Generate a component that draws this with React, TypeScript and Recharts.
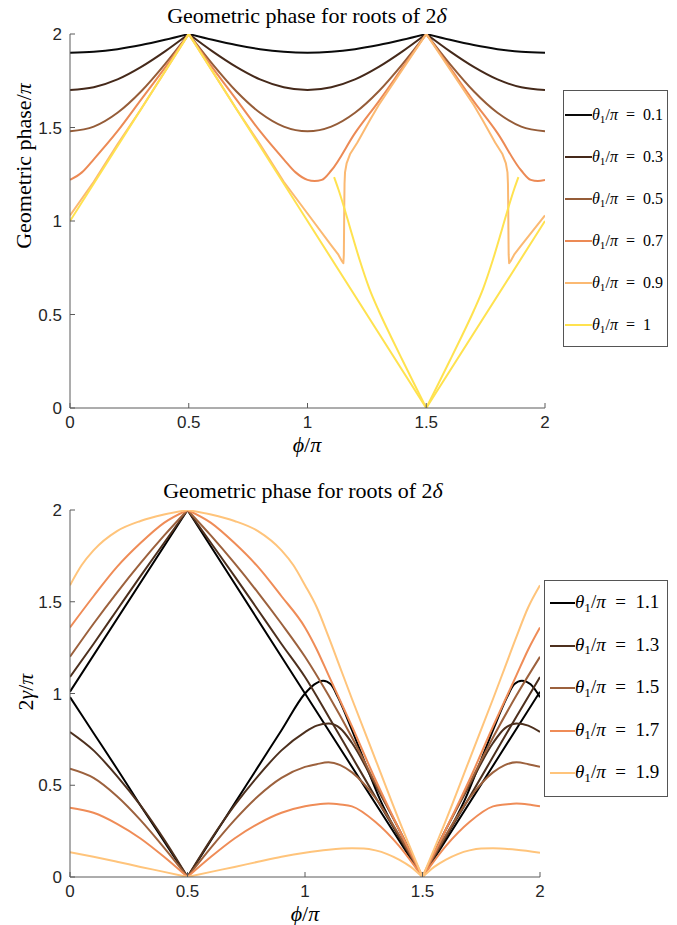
import React from 'react';
import { LineChart, Line, XAxis, YAxis, Legend, Customized } from 'recharts';

// ---------------- shared ----------------
const TICKS = [0, 0.5, 1, 1.5, 2];
const PHI = [0, 0.1, 0.2, 0.3, 0.4, 0.5, 0.6, 0.7, 0.8, 0.9, 1, 1.1, 1.2, 1.3, 1.4, 1.5, 1.6, 1.7, 1.8, 1.9, 2];

// ---------------- top panel (theta1/pi = 0.1 ... 1) ----------------
const TOP_LABELS = ['0.1', '0.3', '0.5', '0.7', '0.9', '1'];
const TOP_COLORS = ['#0a0a0a', '#45291a', '#955c38', '#ec8a55', '#fbb972', '#ffe24f'];

const TOP_T01 = [1.9, 1.905, 1.919, 1.941, 1.969, 2, 1.969, 1.941, 1.919, 1.905, 1.9, 1.905, 1.919, 1.941, 1.969, 2, 1.969, 1.941, 1.919, 1.905, 1.9];
const TOP_T03 = [1.7, 1.715, 1.757, 1.824, 1.907, 2, 1.907, 1.824, 1.757, 1.715, 1.7, 1.715, 1.757, 1.824, 1.907, 2, 1.907, 1.824, 1.757, 1.715, 1.7];
const TOP_T05 = [1.48, 1.505, 1.579, 1.694, 1.839, 2, 1.839, 1.694, 1.579, 1.505, 1.48, 1.505, 1.579, 1.694, 1.839, 2, 1.839, 1.694, 1.579, 1.505, 1.48];

const PHI_T07 = [0, 0.05, 0.1, 0.2, 0.3, 0.4, 0.5, 0.6, 0.7, 0.8, 0.9, 0.95, 1, 1.03, 1.06, 1.1, 1.2, 1.3, 1.4, 1.5, 1.6, 1.7, 1.8, 1.9, 1.94, 1.97, 2];
const TOP_T07 = [1.22, 1.26, 1.33, 1.48, 1.65, 1.82, 2, 1.82, 1.65, 1.48, 1.33, 1.26, 1.22, 1.214, 1.22, 1.27, 1.47, 1.64, 1.82, 2, 1.82, 1.64, 1.47, 1.27, 1.22, 1.214, 1.22];

const PHI_T09 = [0, 0.1, 0.2, 0.3, 0.4, 0.5, 0.6, 0.7, 0.8, 0.9, 1, 1.1, 1.13, 1.145, 1.151, 1.153, 1.154, 1.155, 1.156, 1.158, 1.165, 1.18, 1.21, 1.263, 1.3, 1.4, 1.5, 1.6, 1.7, 1.737, 1.79, 1.82, 1.835, 1.842, 1.844, 1.845, 1.846, 1.847, 1.849, 1.855, 1.87, 1.9, 2];
const TOP_T09 = [1.03, 1.21, 1.41, 1.6, 1.8, 2, 1.8, 1.6, 1.41, 1.21, 1.04, 0.87, 0.82, 0.785, 0.774, 0.82, 0.95, 1.1, 1.2, 1.26, 1.31, 1.36, 1.42, 1.54, 1.62, 1.81, 2, 1.81, 1.62, 1.54, 1.42, 1.36, 1.31, 1.26, 1.2, 1.1, 0.95, 0.82, 0.774, 0.785, 0.82, 0.87, 1.03];

const PHI_T10A = [0, 0.5, 1.5, 2];
const TOP_T10A = [1, 2, 0, 1];
const PHI_T10B = [1.112, 1.13, 1.15, 1.18, 1.22, 1.26, 1.3, 1.35, 1.4, 1.45, 1.5, 1.55, 1.6, 1.65, 1.7, 1.74, 1.78, 1.82, 1.85, 1.87, 1.888];
const TOP_T10B = [1.235, 1.17, 1.09, 0.96, 0.79, 0.64, 0.52, 0.385, 0.255, 0.127, 0, 0.127, 0.255, 0.385, 0.52, 0.64, 0.79, 0.96, 1.09, 1.17, 1.235];

// ---------------- bottom panel (theta1/pi = 1.1 ... 1.9) ----------------
const BOT_LABELS = ['1.1', '1.3', '1.5', '1.7', '1.9'];
const BOT_COLORS = ['#000000', '#4d301e', '#9c613d', '#ef8c57', '#ffc47b'];

const PHI_B11U = [0, 0.5, 1, 1.5, 2];
const BOT_B11U = [1.01, 2, 1, 0, 1.01];
const PHI_B11L = [0, 0.1, 0.2, 0.3, 0.4, 0.5, 0.6, 0.7, 0.8, 0.9, 1, 1.04, 1.077, 1.11, 1.14, 1.2, 1.25, 1.32, 1.4, 1.5, 1.6, 1.68, 1.75, 1.8, 1.86, 1.89, 1.923, 1.96, 2];
const BOT_B11L = [0.98, 0.785, 0.59, 0.39, 0.195, 0, 0.2, 0.4, 0.6, 0.8, 1, 1.05, 1.07, 1.05, 0.98, 0.8, 0.64, 0.42, 0.22, 0, 0.22, 0.42, 0.64, 0.8, 0.98, 1.05, 1.07, 1.05, 0.98];

const BOT_B13U = [1.09, 1.27, 1.455, 1.64, 1.82, 2, 1.82, 1.64, 1.455, 1.27, 1.09, 0.875, 0.655, 0.435, 0.22, 0, 0.22, 0.435, 0.655, 0.875, 1.09];
const BOT_B15U = [1.2, 1.38, 1.55, 1.71, 1.86, 2, 1.86, 1.71, 1.55, 1.38, 1.2, 0.99, 0.76, 0.51, 0.26, 0, 0.26, 0.51, 0.76, 0.99, 1.2];
const PHI_B17U = [0, 0.1, 0.2, 0.3, 0.4, 0.5, 0.6, 0.7, 0.8, 0.9, 1, 1.05, 1.1, 1.2, 1.3, 1.4, 1.5, 1.6, 1.7, 1.8, 1.9, 1.95, 2];
const BOT_B17U = [1.36, 1.53, 1.69, 1.82, 1.93, 2, 1.93, 1.82, 1.69, 1.53, 1.36, 1.24, 1.1, 0.82, 0.53, 0.26, 0, 0.26, 0.53, 0.82, 1.1, 1.24, 1.36];
const PHI_B19U = [0, 0.05, 0.1, 0.2, 0.3, 0.4, 0.5, 0.6, 0.7, 0.8, 0.9, 0.95, 1, 1.05, 1.1, 1.15, 1.2, 1.3, 1.4, 1.5, 1.6, 1.7, 1.8, 1.85, 1.9, 1.95, 2];
const BOT_B19U = [1.59, 1.7, 1.78, 1.885, 1.94, 1.975, 2, 1.975, 1.94, 1.885, 1.78, 1.7, 1.59, 1.47, 1.31, 1.14, 0.97, 0.64, 0.31, 0, 0.31, 0.64, 0.97, 1.14, 1.31, 1.47, 1.59];

const PHI_LOW = [0, 0.1, 0.2, 0.3, 0.4, 0.5, 0.6, 0.7, 0.8, 0.9, 1, 1.05, 1.1, 1.15, 1.2, 1.3, 1.4, 1.5, 1.6, 1.7, 1.8, 1.85, 1.9, 1.95, 2];
const BOT_B13L = [0.79, 0.69, 0.55, 0.39, 0.205, 0, 0.205, 0.39, 0.55, 0.69, 0.79, 0.825, 0.836, 0.81, 0.73, 0.5, 0.26, 0, 0.26, 0.5, 0.73, 0.81, 0.836, 0.825, 0.79];
const BOT_B15L = [0.59, 0.54, 0.44, 0.31, 0.16, 0, 0.16, 0.31, 0.44, 0.54, 0.6, 0.615, 0.625, 0.61, 0.57, 0.43, 0.23, 0, 0.23, 0.43, 0.57, 0.61, 0.625, 0.615, 0.6];
const BOT_B17L = [0.378, 0.35, 0.29, 0.21, 0.11, 0, 0.11, 0.21, 0.29, 0.35, 0.385, 0.395, 0.4, 0.395, 0.385, 0.3, 0.17, 0, 0.17, 0.3, 0.385, 0.395, 0.4, 0.395, 0.385];
const PHI_B19L = [0, 0.1, 0.2, 0.3, 0.4, 0.5, 0.6, 0.7, 0.8, 0.9, 1, 1.1, 1.2, 1.25, 1.3, 1.35, 1.4, 1.45, 1.5, 1.55, 1.6, 1.65, 1.7, 1.75, 1.8, 1.9, 2];
const BOT_B19L = [0.135, 0.11, 0.083, 0.055, 0.028, 0, 0.028, 0.055, 0.083, 0.11, 0.132, 0.148, 0.156, 0.155, 0.145, 0.125, 0.095, 0.055, 0, 0.055, 0.095, 0.125, 0.145, 0.155, 0.156, 0.148, 0.132];

// ---------------- helpers ----------------
const SERIF = '"Liberation Serif", "Times New Roman", "DejaVu Serif", serif';
const SANS = '"Liberation Sans", Arial, sans-serif';
const AXIS_COLOR = '#5a5a5a';
const TICK_STYLE = { fill: '#262626', fontSize: 17, fontFamily: SANS };

type Curve = 'monotone' | 'linear';
type Series = { id: string; xs: number[]; ys: number[]; color: string; curve: Curve; split: boolean };

const TOP_SERIES: Series[] = [
  { id: 't01', xs: PHI, ys: TOP_T01, color: TOP_COLORS[0], curve: 'monotone', split: true },
  { id: 't03', xs: PHI, ys: TOP_T03, color: TOP_COLORS[1], curve: 'monotone', split: true },
  { id: 't05', xs: PHI, ys: TOP_T05, color: TOP_COLORS[2], curve: 'monotone', split: true },
  { id: 't07', xs: PHI_T07, ys: TOP_T07, color: TOP_COLORS[3], curve: 'monotone', split: true },
  { id: 't09', xs: PHI_T09, ys: TOP_T09, color: TOP_COLORS[4], curve: 'linear', split: false },
  { id: 't10a', xs: PHI_T10A, ys: TOP_T10A, color: TOP_COLORS[5], curve: 'linear', split: false },
  { id: 't10b', xs: PHI_T10B, ys: TOP_T10B, color: TOP_COLORS[5], curve: 'monotone', split: true },
];

const BOT_SERIES: Series[] = [
  { id: 'b11u', xs: PHI_B11U, ys: BOT_B11U, color: BOT_COLORS[0], curve: 'linear', split: false },
  { id: 'b11l', xs: PHI_B11L, ys: BOT_B11L, color: BOT_COLORS[0], curve: 'monotone', split: true },
  { id: 'b13u', xs: PHI, ys: BOT_B13U, color: BOT_COLORS[1], curve: 'monotone', split: true },
  { id: 'b13l', xs: PHI_LOW, ys: BOT_B13L, color: BOT_COLORS[1], curve: 'monotone', split: true },
  { id: 'b15u', xs: PHI, ys: BOT_B15U, color: BOT_COLORS[2], curve: 'monotone', split: true },
  { id: 'b15l', xs: PHI_LOW, ys: BOT_B15L, color: BOT_COLORS[2], curve: 'monotone', split: true },
  { id: 'b17u', xs: PHI_B17U, ys: BOT_B17U, color: BOT_COLORS[3], curve: 'monotone', split: true },
  { id: 'b17l', xs: PHI_LOW, ys: BOT_B17L, color: BOT_COLORS[3], curve: 'monotone', split: true },
  { id: 'b19u', xs: PHI_B19U, ys: BOT_B19U, color: BOT_COLORS[4], curve: 'monotone', split: true },
  { id: 'b19l', xs: PHI_B19L, ys: BOT_B19L, color: BOT_COLORS[4], curve: 'monotone', split: true },
];

type Pt = { x: number; v: number };

function splitAtCusps(pts: Pt[]): Pt[][] {
  const cusps = [0.5, 1.5];
  const segs: Pt[][] = [];
  let cur: Pt[] = [];
  pts.forEach((p) => {
    cur.push(p);
    if (cusps.includes(p.x) && cur.length > 1) {
      segs.push(cur);
      cur = [p];
    }
  });
  if (cur.length > 1) segs.push(cur);
  return segs;
}

function buildLines(series: Series[]) {
  const out: React.ReactElement[] = [];
  series.forEach((s) => {
    const pts = s.xs.map((x, i) => ({ x, v: s.ys[i] }));
    const segs = s.split ? splitAtCusps(pts) : [pts];
    segs.forEach((seg, j) => {
      out.push(
        <Line
          key={`${s.id}-${j}`}
          data={seg}
          dataKey="v"
          type={s.curve}
          stroke={s.color}
          strokeWidth={2}
          strokeLinejoin="round"
          dot={false}
          activeDot={false}
          legendType="none"
          isAnimationActive={false}
        />
      );
    });
  });
  return out;
}

type LegendProps = {
  labels: string[];
  colors: string[];
  width: number;
  height: number;
  first: number;
  step: number;
  lineLeft: number;
  lineLen: number;
  fontSize: number;
};

function LegendBox({ labels, colors, width, height, first, step, lineLeft, lineLen, fontSize }: LegendProps) {
  return (
    <div
      style={{
        position: 'relative',
        width,
        height,
        boxSizing: 'border-box',
        border: '1px solid #555',
        background: '#fff',
      }}
    >
      {labels.map((lab, i) => (
        <div
          key={lab}
          style={{
            position: 'absolute',
            left: lineLeft,
            top: first + step * i - 13,
            height: 26,
            display: 'flex',
            alignItems: 'center',
            whiteSpace: 'nowrap',
          }}
        >
          <span style={{ display: 'inline-block', width: lineLen, height: 2, background: colors[i] }} />
          <span style={{ fontFamily: SERIF, fontSize, lineHeight: '26px', color: '#000' }}>
            <i>θ</i>
            <span style={{ fontSize: '0.7em', position: 'relative', top: '0.3em' }}>1</span>/<i>π</i>
            {'\u2002=\u2002'}
            {lab}
          </span>
        </div>
      ))}
    </div>
  );
}

function TopTexts() {
  return (
    <g>
      <text x={307} y={23} textAnchor="middle" fontFamily={SERIF} fontSize={22} fill="#000">
        Geometric phase for roots of 2<tspan fontStyle="italic">δ</tspan>
      </text>
      <text x={307} y={452} textAnchor="middle" fontFamily={SERIF} fontSize={22} fill="#000">
        <tspan fontStyle="italic">ϕ</tspan>/<tspan fontStyle="italic">π</tspan>
      </text>
      <text transform="translate(31,166) rotate(-90)" textAnchor="middle" fontFamily={SERIF} fontSize={22} fill="#000">
        Geometric phase/<tspan fontStyle="italic">π</tspan>
      </text>
    </g>
  );
}

function BottomTexts() {
  return (
    <g>
      <text x={303} y={38} textAnchor="middle" fontFamily={SERIF} fontSize={22} fill="#000">
        Geometric phase for roots of 2<tspan fontStyle="italic">δ</tspan>
      </text>
      <text x={305} y={461} textAnchor="middle" fontFamily={SERIF} fontSize={22} fill="#000">
        <tspan fontStyle="italic">ϕ</tspan>/<tspan fontStyle="italic">π</tspan>
      </text>
      <text transform="translate(33,232) rotate(-90)" textAnchor="middle" fontFamily={SERIF} fontSize={22} fill="#000">
        2<tspan fontStyle="italic">γ</tspan>/<tspan fontStyle="italic">π</tspan>
      </text>
    </g>
  );
}

function axes(xHeight: number) {
  return [
    <XAxis
      key="x"
      type="number"
      dataKey="x"
      domain={[0, 2]}
      ticks={TICKS}
      interval={0}
      allowDataOverflow
      height={xHeight}
      tickSize={-5}
      tickMargin={13}
      axisLine={{ stroke: AXIS_COLOR }}
      tickLine={{ stroke: AXIS_COLOR }}
      tick={TICK_STYLE}
    />,
    <YAxis
      key="y"
      type="number"
      domain={[0, 2]}
      ticks={TICKS}
      interval={0}
      allowDataOverflow
      width={70}
      tickSize={-5}
      tickMargin={13}
      axisLine={{ stroke: AXIS_COLOR }}
      tickLine={{ stroke: AXIS_COLOR }}
      tick={TICK_STYLE}
    />,
  ];
}

export default function App() {
  return (
    <div style={{ position: 'absolute', left: 0, top: 0, width: 677, height: 925, background: '#fff' }}>
      <div style={{ position: 'absolute', left: 0, top: 0 }}>
        <LineChart width={677} height={460} margin={{ top: 34, right: 132, bottom: 0, left: 0 }}>
          {axes(52)}
          {buildLines(TOP_SERIES)}
          <Legend
            layout="vertical"
            align="center"
            verticalAlign="middle"
            wrapperStyle={{ left: 563, top: 90 }}
            content={() => (
              <LegendBox
                labels={TOP_LABELS}
                colors={TOP_COLORS}
                width={105}
                height={257}
                first={24}
                step={42}
                lineLeft={1}
                lineLen={27}
                fontSize={16}
              />
            )}
          />
          <Customized component={TopTexts} />
        </LineChart>
      </div>
      <div style={{ position: 'absolute', left: 0, top: 460 }}>
        <LineChart width={677} height={465} margin={{ top: 50, right: 137, bottom: 0, left: 0 }}>
          {axes(48)}
          {buildLines(BOT_SERIES)}
          <Legend
            layout="vertical"
            align="center"
            verticalAlign="middle"
            wrapperStyle={{ left: 544, top: 120 }}
            content={() => (
              <LegendBox
                labels={BOT_LABELS}
                colors={BOT_COLORS}
                width={124}
                height={217}
                first={22}
                step={42.5}
                lineLeft={5}
                lineLen={25}
                fontSize={19}
              />
            )}
          />
          <Customized component={BottomTexts} />
        </LineChart>
      </div>
    </div>
  );
}
